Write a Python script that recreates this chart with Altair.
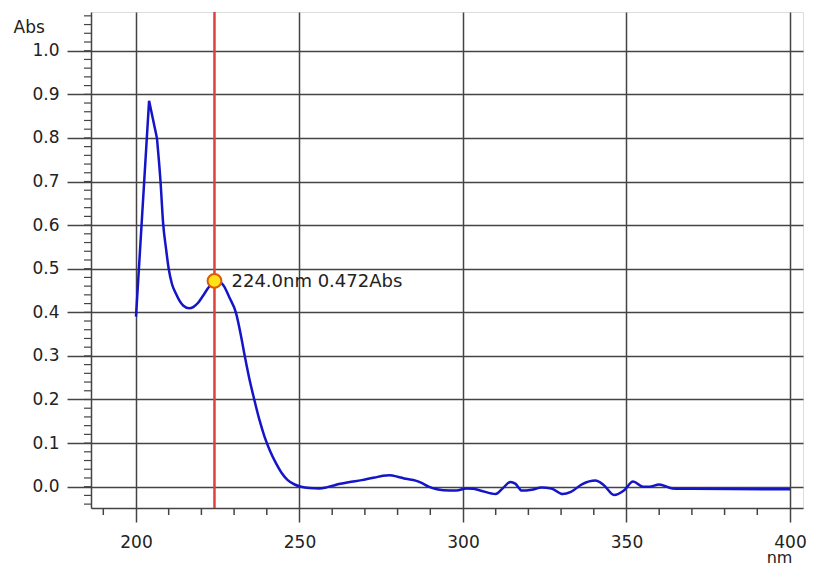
import altair as alt
import pandas as pd

# Spectrum (wavelength in nm, absorbance in Abs)
nm = [200, 204, 206.4, 207.5, 208.3, 209.2, 210, 211, 212.2, 213.2, 214.5,
      216.3, 217.5, 219, 220.5, 222, 223, 224, 225, 226, 227, 228.5, 230.6,
      232, 233.1, 234.6, 236.2, 237.8, 239.3, 241, 242.8, 244.5, 246.4, 248.5,
      250.5, 253, 256, 258.5, 261, 265, 269, 273, 275.5, 277.5, 280, 282.5,
      285.5, 287.5, 289.5, 292, 294, 298, 301, 303, 305, 310, 312, 314.5, 316,
      318, 321, 324, 327, 330.5, 333, 336.5, 340.5, 343, 346.2, 349.3, 352,
      355, 357, 360, 364, 370, 400]
absorb = [0.39, 0.885, 0.80, 0.70, 0.604, 0.545, 0.50, 0.465, 0.443, 0.428,
          0.415, 0.409, 0.412, 0.422, 0.438, 0.455, 0.465, 0.472, 0.474, 0.468,
          0.459, 0.435, 0.398, 0.35, 0.306, 0.25, 0.199, 0.152, 0.115, 0.082,
          0.054, 0.032, 0.015, 0.005, 0.0, -0.003, -0.004, -0.001, 0.004, 0.010,
          0.015, 0.021, 0.025, 0.026, 0.023, 0.018, 0.014, 0.008, 0.0, -0.006,
          -0.008, -0.009, -0.004, -0.005, -0.008, -0.017, -0.005, 0.011, 0.007,
          -0.009, -0.007, -0.002, -0.004, -0.017, -0.012, 0.006, 0.014, 0.004,
          -0.019, -0.008, 0.012, 0.0, 0.0, 0.005, -0.004, -0.005, -0.006]

cursor_nm = [224.0]
cursor_abs = [0.472]

x_major = [200, 250, 300, 350, 400]
y_major = [round(i * 0.1, 1) for i in range(11)]
x_minor = [v for v in range(190, 401, 10) if v % 50 != 0]
y_minor = [round(-0.04 + 0.02 * i, 2) for i in range(57)]

spec = pd.DataFrame({"nm": nm, "abs": absorb})
cur = pd.DataFrame({"nm": cursor_nm, "abs": cursor_abs})
cur["label"] = [f"{a:.1f}nm {b:.3f}Abs" for a, b in zip(cursor_nm, cursor_abs)]
xm = pd.DataFrame({"nm": x_minor})
ym = pd.DataFrame({"abs": y_minor})

GRID = "#444444"
FONT = "DejaVu Sans"
W, H = 712, 496
BLUE = "#1414c8"

xscale = alt.Scale(domain=[186.24, 403.98], nice=False, zero=False)
yscale = alt.Scale(domain=[-0.0489, 1.0888], nice=False, zero=False)

xaxis = alt.Axis(values=x_major, grid=True, gridColor=GRID, gridWidth=1.5,
                 tickSize=14, tickColor=GRID, tickWidth=1.5,
                 domainColor=GRID, domainWidth=1.5,
                 labelFont=FONT, labelFontSize=17, labelColor="#222222",
                 labelPadding=12, title="nm", titleFont=FONT, titleFontSize=16,
                 titleFontWeight="normal", titleColor="#222222",
                 titleX=688, titleY=54, titleAlign="center",
                 titleBaseline="alphabetic")
yaxis = alt.Axis(values=y_major, format=".1f", grid=True, gridColor=GRID,
                 gridWidth=1.5, tickSize=24, tickColor=GRID, tickWidth=1.5,
                 domainColor=GRID, domainWidth=1.5,
                 labelFont=FONT, labelFontSize=17, labelColor="#222222",
                 labelPadding=8, title="Abs", titleFont=FONT, titleFontSize=17,
                 titleFontWeight="normal", titleColor="#222222", titleAngle=0,
                 titleX=-78, titleY=20, titleAlign="left",
                 titleBaseline="alphabetic")

X = alt.X("nm:Q", scale=xscale, axis=xaxis)
Y = alt.Y("abs:Q", scale=yscale, axis=yaxis)

base = alt.Chart(spec)
# sharp absorption peak drawn straight, the rest of the spectrum smoothed
line_peak = base.transform_filter(alt.datum.nm <= 206.4).mark_line(
    color=BLUE, strokeWidth=2.5, interpolate="linear").encode(x=X, y=Y)
line_rest = base.transform_filter(alt.datum.nm >= 206.4).mark_line(
    color=BLUE, strokeWidth=2.5, interpolate="monotone").encode(x=X, y=Y)

ymin = alt.Chart(ym).mark_rule(color=GRID, strokeWidth=1.2).encode(
    y=Y, x=alt.value(-7), x2=alt.value(0))
xmin = alt.Chart(xm).mark_rule(color=GRID, strokeWidth=1.5).encode(
    x=X, y=alt.value(H), y2=alt.value(H + 7))

cursor = alt.Chart(cur).mark_rule(color="#e0403c", strokeWidth=2.5).encode(
    x=X, y=alt.value(0), y2=alt.value(H))
marker = alt.Chart(cur).mark_point(filled=True, fill="#ffe21a", stroke="#e05a00",
                                   strokeWidth=2, size=190, opacity=1,
                                   shape="circle").encode(x=X, y=Y)
label = alt.Chart(cur).mark_text(align="left", baseline="middle", dx=17, dy=1,
                                 font=FONT, fontSize=18, color="#222222").encode(
    x=X, y=Y, text="label:N")

chart = alt.layer(ymin, xmin, cursor, line_peak, line_rest, marker, label).properties(
    width=W, height=H,
    autosize=alt.AutoSizeParams(type="none"),
    padding={"left": 83, "top": 4, "right": 4, "bottom": 58},
).configure_view(strokeWidth=0).configure(background="white")

chart.save("out.html", embed_options={"renderer": "svg", "actions": False})
